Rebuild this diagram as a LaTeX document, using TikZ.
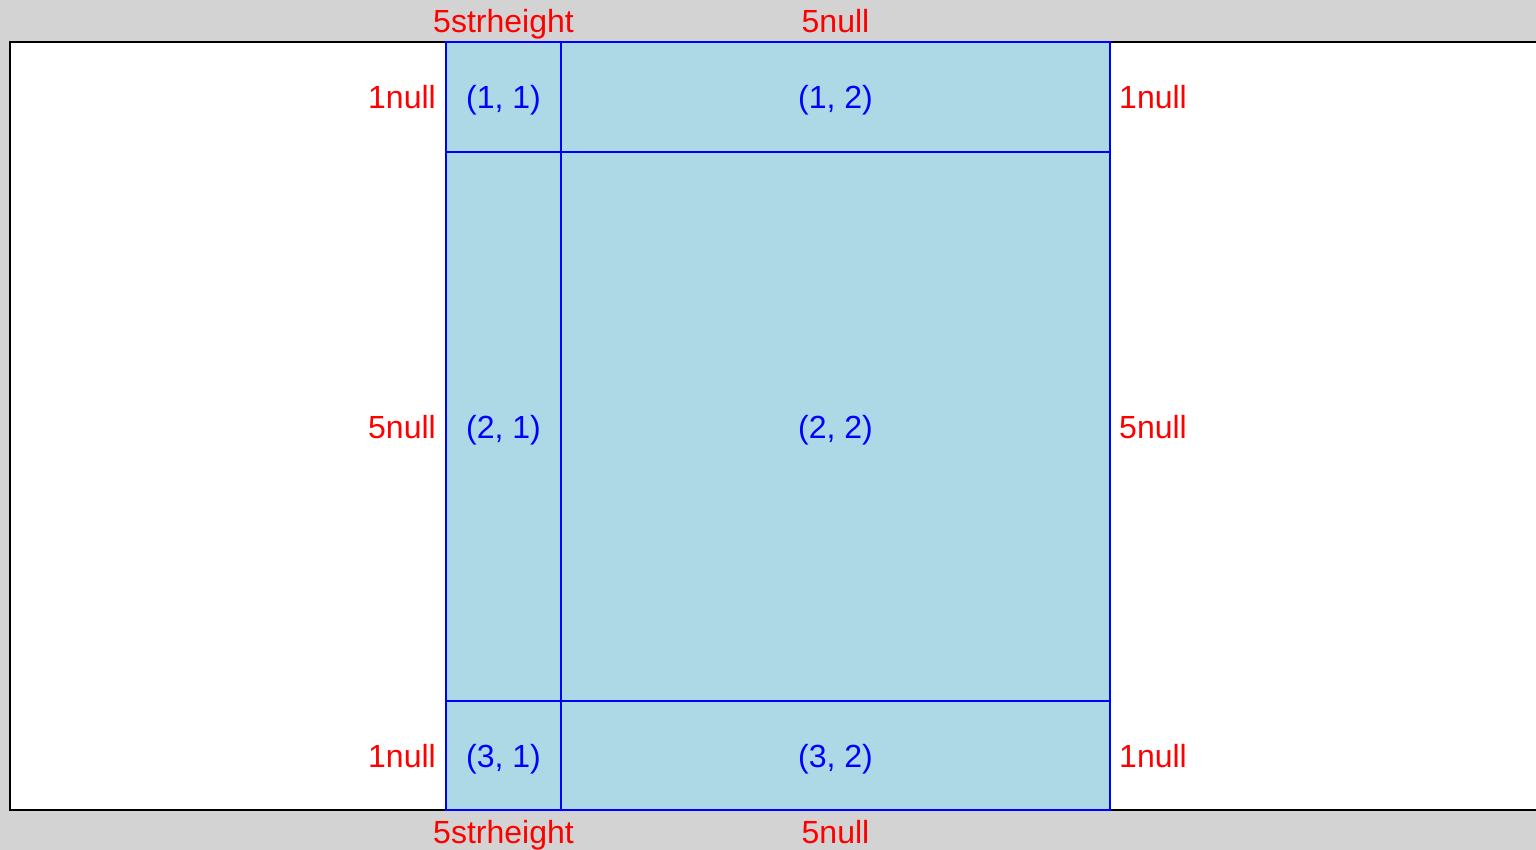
\documentclass[tikz,border=0pt]{standalone}
\usepackage{fontspec}
\setmainfont{Liberation Sans}
\definecolor{bggray}{HTML}{D3D3D3}
\definecolor{cellblue}{HTML}{ADD8E6}
\begin{document}
\begin{tikzpicture}[x=1pt,y=-1pt,
  cell/.style={draw=blue,fill=cellblue,line width=1.6pt,inner sep=0pt,text=blue,
    text height=23pt,text depth=0pt,font=\fontsize{32}{38}\selectfont},
  lab/.style={text=red,inner sep=0pt,font=\fontsize{32}{38}\selectfont}]
\fill[bggray] (0,0) rectangle (1536,850);
\useasboundingbox (0,0) rectangle (1536,850);
\draw[black,line width=1.6pt,fill=white] (10,42) rectangle (1545,810);
% cells
\node[cell,minimum width=115pt,minimum height=110pt] (c11) at (503.5,97) {(1, 1)};
\node[cell,minimum width=549pt,minimum height=110pt] (c12) at (835.5,97) {(1, 2)};
\node[cell,minimum width=115pt,minimum height=549pt] (c21) at (503.5,426.5) {(2, 1)};
\node[cell,minimum width=549pt,minimum height=549pt] (c22) at (835.5,426.5) {(2, 2)};
\node[cell,minimum width=115pt,minimum height=109pt] (c31) at (503.5,755.5) {(3, 1)};
\node[cell,minimum width=549pt,minimum height=109pt] (c32) at (835.5,755.5) {(3, 2)};
% column labels
\node[lab,anchor=base] (t1) at (503.5,33) {5strheight};
\node[lab,anchor=base] (t2) at (835.5,33) {5null};
\node[lab,anchor=base] (b1) at (503.5,843) {5strheight};
\node[lab,anchor=base] (b2) at (835.5,843) {5null};
% row labels
\node[lab,anchor=base east] (l1) at (436,109) {1null};
\node[lab,anchor=base east] (l2) at (436,438) {5null};
\node[lab,anchor=base east] (l3) at (436,767) {1null};
\node[lab,anchor=base west] (r1) at (1119,109) {1null};
\node[lab,anchor=base west] (r2) at (1119,438) {5null};
\node[lab,anchor=base west] (r3) at (1119,767) {1null};
\end{tikzpicture}
\end{document}
